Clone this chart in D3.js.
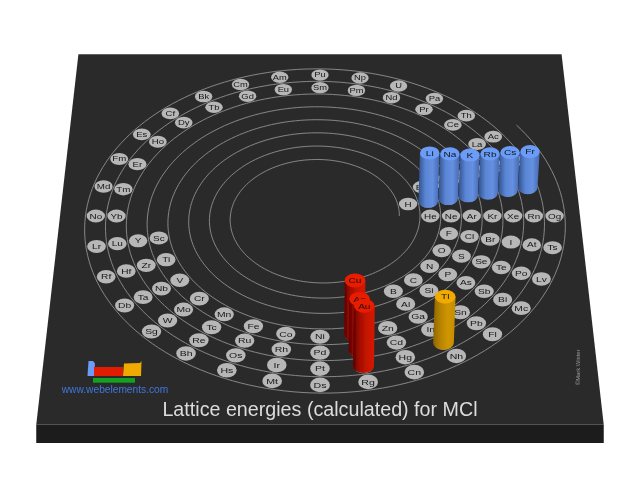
<!DOCTYPE html>
<html lang="en">
  <head>
    <meta charset="UTF-8">
    <title>Lattice energies (calculated) for MCl</title>
    <script src="https://d3js.org/d3.v7.min.js"></script>
    <style>
      html, body { margin: 0; padding: 0; background: #fff; }
      svg { display: block; }
      text { font-family: "Liberation Sans", Arial, sans-serif; }
    </style>
  </head>
  <body>
    <script>
      // periodic table rows, one slot per 1/32 of a turn
      const period1 = ["H", "He"];
      const period2 = ["Li", "Be", "B", "C", "N", "O", "F", "Ne"];
      const period3 = ["Na", "Mg", "Al", "Si", "P", "S", "Cl", "Ar"];
      const period4 = ["K", "Ca", "Sc", "Ti", "V", "Cr", "Mn", "Fe", "Co", "Ni", "Cu", "Zn", "Ga", "Ge", "As", "Se", "Br", "Kr"];
      const period5 = ["Rb", "Sr", "Y", "Zr", "Nb", "Mo", "Tc", "Ru", "Rh", "Pd", "Ag", "Cd", "In", "Sn", "Sb", "Te", "I", "Xe"];
      const period6 = ["Cs", "Ba", "La", "Ce", "Pr", "Nd", "Pm", "Sm", "Eu", "Gd", "Tb", "Dy", "Ho", "Er", "Tm", "Yb", "Lu", "Hf", "Ta", "W", "Re", "Os", "Ir", "Pt", "Au", "Hg", "Tl", "Pb", "Bi", "Po", "At", "Rn"];
      const period7 = ["Fr", "Ra", "Ac", "Th", "Pa", "U", "Np", "Pu", "Am", "Cm", "Bk", "Cf", "Es", "Fm", "Md", "No", "Lr", "Rf", "Db", "Sg", "Bh", "Hs", "Mt", "Ds", "Rg", "Cn", "Nh", "Fl", "Mc", "Lv", "Ts", "Og"];
      const periods = [period1, period2, period3, period4, period5, period6, period7];

      // bars, lattice energy in kJ/mol read from the heights
      const barElements = ["Li", "Na", "K", "Rb", "Cs", "Fr", "Cu", "Ag", "Au", "Tl"];
      const barValues = [853, 790, 722, 695, 672, 640, 905, 850, 990, 765];
      const barGroups = ["s", "s", "s", "s", "s", "s", "d", "d", "d", "p"];

      const w = 640;
      const h = 480;

      const svg = d3.select("body").append("svg").attr("width", w).attr("height", h);
      const defs = svg.append("defs");

      // the reference is a soft render
      defs.append("filter").attr("id", "soft")
          .attr("x", 0).attr("y", 0)
          .attr("filterUnits", "userSpaceOnUse")
          .attr("width", w).attr("height", h)
          .append("feGaussianBlur").attr("stdDeviation", 0.45);
      const scene = svg.append("g").attr("filter", "url(#soft)");

      // plate perspective
      const cx = 320, cy = 216, persp = 0.0003, squash = 0.6856;
      const rScale = d3.scaleLinear().domain([0, 8]).range([79.3, 244.9]);
      const angleScale = d3.scaleLinear().domain([0, 32]).range([0, 2 * Math.PI]);
      const heightScale = d3.scaleLinear().domain([0, 1000]).range([0, 57]);

      const depth = (v) => 1 - persp * v;
      const project = (u, v) => [cx + u / depth(v), cy + squash * v / depth(v)];
      const polar = (turns, slot) => {
        const r = rScale(turns + slot / 32);
        const a = angleScale(slot);
        return [r * Math.cos(a), -r * Math.sin(a)];
      };

      // top and front of the plate
      const corners = [[-260, -254], [260, -254], [260, 279], [-260, 279]].map((c) => project(c[0], c[1]));
      scene.append("path")
         .attr("d", `M${corners[3]}L${corners[2]}L${corners[2][0]},443L${corners[3][0]},443Z`)
         .attr("fill", "#1b1b1b");
      scene.append("path")
         .attr("d", `M${corners.join("L")}Z`)
         .attr("fill", "#2c2c2c");

      // spiral, widening by one band per turn
      const line = d3.line();
      const spiral = d3.range(0, 8.097 * 360, 2).map((deg) => {
        const [u, v] = polar(deg / 360 - (deg % 360) / 360, (deg % 360) / 360 * 32);
        return project(u, v);
      });
      scene.append("path")
         .attr("d", line(spiral))
         .attr("fill", "none")
         .attr("stroke", "#8e8e8e")
         .attr("stroke-width", 0.9);

      // element discs
      const slotsFor = (row) => row.length === 2 ? [1, 32]
        : row.length === 32 ? row.map((d, i) => i + 1)
        : row.map((d, i) => i < 2 ? i + 1 : 32 - (row.length - 1 - i));

      const elements = [];
      periods.forEach((row, p) => {
        const slots = slotsFor(row);
        row.forEach((name, i) => {
          const [u, v] = polar(p + 0.5, slots[i]);
          elements.push({ name, u, v, pos: project(u, v), scale: 1 / depth(v) });
        });
      });

      const elementG = scene.append("g").selectAll("g")
        .data(elements)
        .join("g")
        .attr("transform", (d) => `translate(${d.pos})`);
      elementG.append("ellipse")
        .attr("rx", (d) => 9.2 * d.scale)
        .attr("ry", (d) => 6.4 * d.scale * d.scale)
        .attr("fill", "#b7b7b7");
      // Ge sits fully behind the Tl cylinder
      elementG.filter((d) => d.name !== "Ge").append("text")
        .attr("transform", (d) => `scale(${1.15 * d.scale},${0.85 * d.scale})`)
        .attr("y", 3)
        .attr("text-anchor", "middle")
        .attr("font-size", 8.6)
        .attr("fill", "#161616")
        .text((d) => d.name);

      // cylinders
      const colours = {
        s: { top: "#6a9cf8", stops: ["#30508c", "#5a85d4", "#6690e0", "#4468b4"] },
        d: { top: "#e91b00", stops: ["#5e0000", "#a80f00", "#c61400", "#d81600"] },
        p: { top: "#f0aa00", stops: ["#8f6500", "#b88400", "#d09600", "#c48c00"] }
      };
      Object.keys(colours).forEach((k) => {
        const g = defs.append("linearGradient").attr("id", "side-" + k);
        colours[k].stops.forEach((c, i, all) => {
          g.append("stop").attr("offset", i / (all.length - 1)).attr("stop-color", c);
        });
      });

      const bars = barElements.map((name, i) => {
        const e = elements.find((d) => d.name === name);
        const height = heightScale(barValues[i]) * e.scale;
        const lean = 1 + 0.0003 * height;
        return {
          name,
          group: barGroups[i],
          base: e.pos,
          top: [cx + (e.pos[0] - cx) * lean, e.pos[1] - height],
          rx: 9.8 * e.scale,
          ry: 6.6 * e.scale
        };
      }).sort((a, b) => a.base[1] - b.base[1]);

      const barG = scene.append("g").selectAll("g").data(bars).join("g");
      barG.append("path")
        .attr("d", (d) => {
          const [bx, by] = d.base, [tx, ty] = d.top;
          return `M${tx - d.rx},${ty}L${bx - d.rx},${by}A${d.rx},${d.ry} 0 0 0 ${bx + d.rx},${by}L${tx + d.rx},${ty}Z`;
        })
        .attr("fill", (d) => `url(#side-${d.group})`);
      barG.append("ellipse")
        .attr("cx", (d) => d.top[0])
        .attr("cy", (d) => d.top[1])
        .attr("rx", (d) => d.rx)
        .attr("ry", (d) => d.ry)
        .attr("fill", (d) => colours[d.group].top);
      barG.append("text")
        .attr("transform", (d) => `translate(${d.top[0]},${d.top[1] + 2.8}) scale(1.15,0.85)`)
        .attr("text-anchor", "middle")
        .attr("font-size", 8.8)
        .attr("fill", "#161616")
        .text((d) => d.name);

      // title and credits
      scene.append("text")
         .attr("x", 320)
         .attr("y", 415.5)
         .attr("text-anchor", "middle")
         .attr("font-size", 19.7)
         .attr("fill", "#dcdcdc")
         .text("Lattice energies (calculated) for MCl");

      scene.append("text")
         .attr("x", 115)
         .attr("y", 393)
         .attr("text-anchor", "middle")
         .attr("font-size", 10.2)
         .attr("fill", "#3f74dc")
         .text("www.webelements.com");

      scene.append("text")
         .attr("transform", "translate(580,385) rotate(-90)")
         .attr("font-size", 5.8)
         .attr("fill", "#9a9a9a")
         .text("©Mark Winter");

      // small periodic table logo
      const logo = scene.append("g");
      logo.append("path").attr("d", "M87.5,376L88.5,361L93,361L95,363.5L94,376Z").attr("fill", "#6a9cf8");
      logo.append("rect").attr("x", 94).attr("y", 367).attr("width", 29).attr("height", 9).attr("fill", "#e21b00");
      logo.append("path").attr("d", "M123,376L124,363.5L140,363L141.5,361L141,376Z").attr("fill", "#efaa00");
      logo.append("rect").attr("x", 93).attr("y", 378).attr("width", 42).attr("height", 4.7).attr("fill", "#12a020");
    </script>
  </body>
</html>
